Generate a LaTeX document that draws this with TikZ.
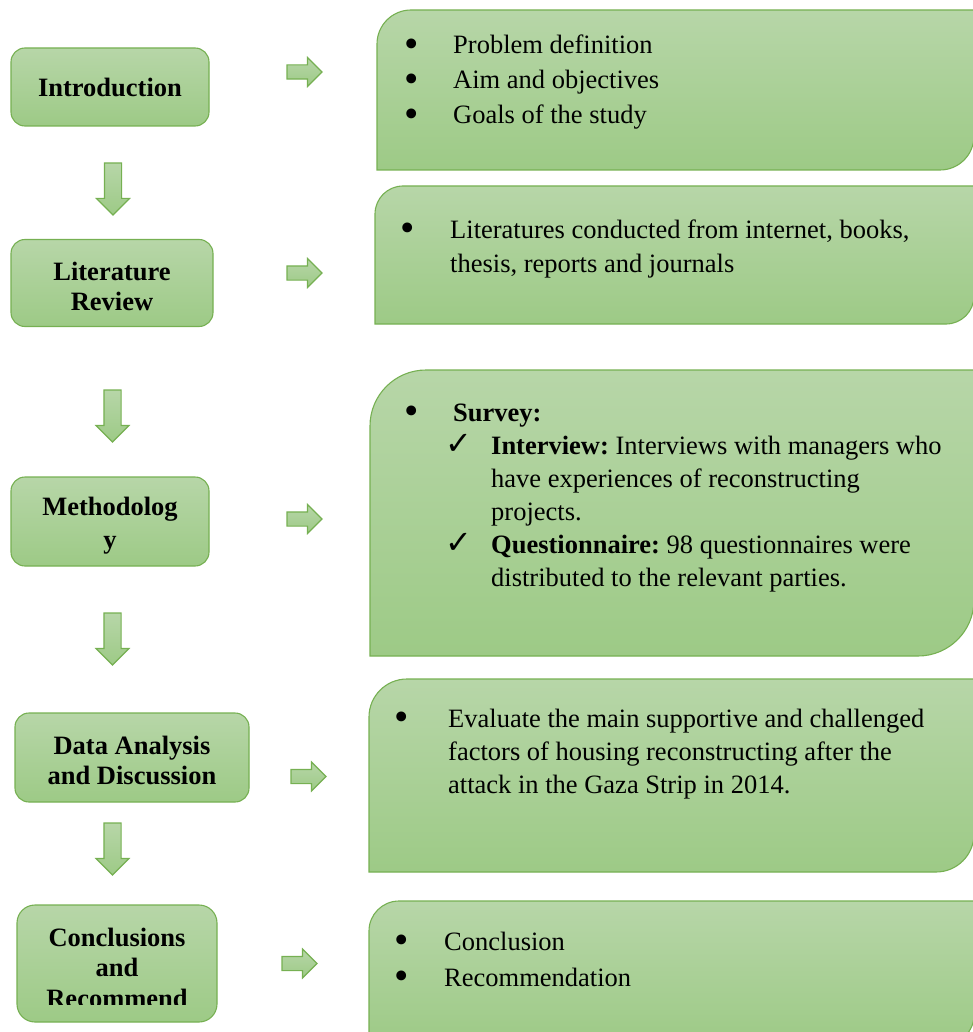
\documentclass[tikz,border=0pt]{standalone}
\usepackage{fontspec}
\usepackage{graphicx}
\setmainfont{Liberation Serif}
\newfontfamily\symfont{DejaVu Sans}
\usetikzlibrary{shapes.arrows}
\frenchspacing

\definecolor{boxtop}{RGB}{183,214,168}
\definecolor{boxbot}{RGB}{157,202,134}
\definecolor{boxline}{RGB}{118,176,82}
\newcommand{\ck}{{\symfont\fontsize{32}{32}\selectfont\char"2713}}
\newcommand{\bul}{\smash{\raisebox{-3.5pt}{\scalebox{1.55}{\textbullet}}}}
\newcommand{\lift}[1]{\rule{0pt}{#1}}

\tikzset{
  ltext/.style={align=center, inner sep=0pt, outer sep=0pt,
    font=\bfseries\fontsize{26.5}{30}\selectfont},
  lbox/.style={ltext, draw=boxline, line width=1.1pt, top color=boxtop, bottom color=boxbot,
    rounded corners=14pt},
  rbox/.style={draw=boxline, line width=1.1pt, top color=boxtop, bottom color=boxbot},
  rtext/.style={inner sep=0pt, anchor=base west},
  rarrow/.style={single arrow, draw=boxline, line width=1.1pt, top color=boxtop,
    bottom color=boxbot, inner sep=6.5pt, outer sep=0pt, minimum height=35pt,
    single arrow head extend=7.5pt, anchor=tail},
  darrow/.style={rarrow, inner sep=8pt, minimum height=52pt,
    single arrow head extend=8pt, shape border rotate=270}
}

\begin{document}
\begin{tikzpicture}[x=1pt,y=-1pt]
    \useasboundingbox (0,0) rectangle (973,1032);
    \clip (0,0) rectangle (973,1032);

    % stages on the left
    \node[lbox, minimum width=198pt, minimum height=78pt] (intro) at (110,87) {Introduction};
    \node[lbox, minimum width=202pt, minimum height=87pt] (litrev) at (112,283) {\lift{24.3pt}Literature\\Review};
    \node[lbox, minimum width=198pt, minimum height=89pt, font=\bfseries\fontsize{26.5}{33}\selectfont] (method) at (110,521.5) {\lift{27pt}Methodolog\\y};
    \node[lbox, minimum width=234pt, minimum height=89pt] (analysis) at (132,757.5) {\lift{24.3pt}Data Analysis\\and Discussion};
    \node[lbox, minimum width=200pt, minimum height=117pt, rounded corners=18pt] (concl) at (117,963.5) {};
    \begin{scope}
      \clip (17,905) rectangle (217,1004);
      \node[ltext, font=\bfseries\fontsize{26.5}{30.5}\selectfont] (concltext) at (117,967.5) {Conclusions\\and\\Recommend};
    \end{scope}

    % down arrows between the stages
    \node[darrow] (down1) at (113,163) {};
    \node[darrow] (down2) at (112.5,390) {};
    \node[darrow] (down3) at (112.5,613) {};
    \node[darrow] (down4) at (112.5,823) {};

    % arrows to the contents
    \node[rarrow] (right1) at (287,72) {};
    \node[rarrow] (right2) at (287,273) {};
    \node[rarrow] (right3) at (287,519) {};
    \node[rarrow] (right4) at (291,776.5) {};
    \node[rarrow] (right5) at (282,963.5) {};

    % contents on the right (round diagonal corners)
    \draw[rbox] (377,170) -- (377,44) arc[start angle=180,end angle=270,radius=34]
      -- (974,10) -- (974,136) arc[start angle=0,end angle=90,radius=34] -- cycle;
    \draw[rbox] (375,324) -- (375,214) arc[start angle=180,end angle=270,radius=28]
      -- (974,186) -- (974,296) arc[start angle=0,end angle=90,radius=28] -- cycle;
    \draw[rbox] (370,656) -- (370,426) arc[start angle=180,end angle=270,radius=56]
      -- (974,370) -- (974,600) arc[start angle=0,end angle=90,radius=56] -- cycle;
    \draw[rbox] (369,872) -- (369,717) arc[start angle=180,end angle=270,radius=38]
      -- (974,679) -- (974,834) arc[start angle=0,end angle=90,radius=38] -- cycle;
    \draw[rbox] (369,1045) -- (369,931) arc[start angle=180,end angle=270,radius=30]
      -- (974,901) -- (974,1015) arc[start angle=0,end angle=90,radius=30] -- cycle;

    \node[rtext, font=\fontsize{26.5}{35}\selectfont] (intro text) at (403.8,54)
      {\begin{tabular}[t]{@{}p{49.2pt}@{}l@{}}
        \bul & Problem definition\\
        \bul & Aim and objectives\\
        \bul & Goals of the study
      \end{tabular}};
    \node[rtext, font=\fontsize{26.5}{34}\selectfont] (litrev text) at (399.8,238)
      {\begin{tabular}[t]{@{}p{50.2pt}@{}l@{}}
        \bul & Literatures conducted from internet, books,\\
        & thesis, reports and journals
      \end{tabular}};
    \node[rtext, font=\fontsize{26.5}{33}\selectfont] (method text) at (403.8,421)
      {\begin{tabular}[t]{@{}p{41.2pt}@{}p{46pt}@{}l@{}}
        \bul & \multicolumn{2}{@{\hspace{8pt}}l@{}}{\textbf{Survey:}}\\
        & \ck & \textbf{Interview:} Interviews with managers who\\
        & & have experiences of reconstructing\\
        & & projects.\\
        & \ck & \textbf{Questionnaire:} 98 questionnaires were\\
        & & distributed to the relevant parties.
      \end{tabular}};
    \node[rtext, font=\fontsize{26.5}{33}\selectfont] (analysis text) at (393.8,727)
      {\begin{tabular}[t]{@{}p{54.2pt}@{}l@{}}
        \bul & Evaluate the main supportive and challenged\\
        & factors of housing reconstructing after the\\
        & attack in the Gaza Strip in 2014.
      \end{tabular}};
    \node[rtext, font=\fontsize{26.5}{36}\selectfont] (concl text) at (393.8,950)
      {\begin{tabular}[t]{@{}p{50.2pt}@{}l@{}}
        \bul & Conclusion\\
        \bul & Recommendation
      \end{tabular}};
\end{tikzpicture}
\end{document}
